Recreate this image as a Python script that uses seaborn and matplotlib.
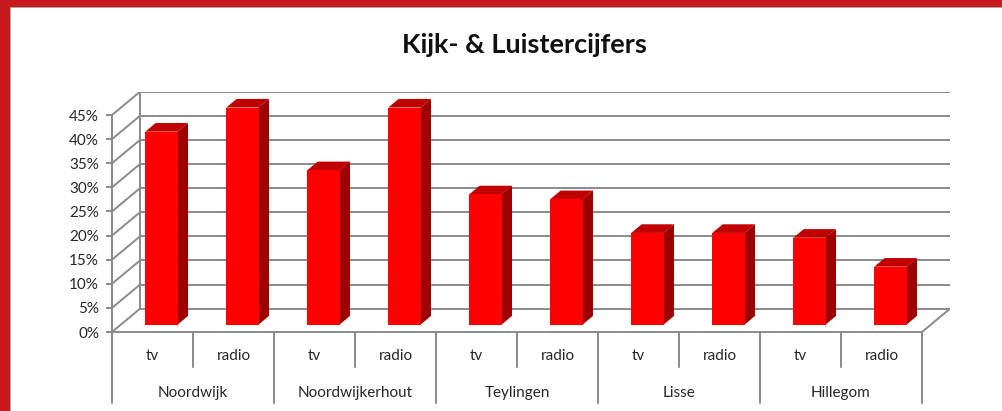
import numpy as np
import pandas as pd
import matplotlib
matplotlib.use("Agg")
import matplotlib.pyplot as plt
import seaborn as sns
from matplotlib.patches import Polygon, Rectangle

# ---- data ----
gemeenten = ["Noordwijk", "Noordwijkerhout", "Teylingen", "Lisse", "Hillegom"]
media = ["tv", "radio"]
tv_pct = [40, 32, 27, 19, 18]
radio_pct = [45, 45, 26, 19, 12]
yticks = [0, 5, 10, 15, 20, 25, 30, 35, 40, 45]
title = "Kijk- & Luistercijfers"

rows = []
for g, t, r in zip(gemeenten, tv_pct, radio_pct):
    rows.append((g, "tv", t))
    rows.append((g, "radio", r))
df = pd.DataFrame(rows, columns=["gemeente", "medium", "pct"])
df["key"] = df["gemeente"] + " " + df["medium"]

sns.set_theme(style="white")
plt.rcParams['font.family'] = ['Lato', 'DejaVu Sans']

W, H = 1003, 411
fig = plt.figure(figsize=(W / 100, H / 100), dpi=100)
fig.patch.set_facecolor("white")

# axes placed so the front plane matches the reference
ax_l, ax_r, ax_b, ax_t = 112, 950, 332, 91.7
ax = fig.add_axes([ax_l / W, (H - ax_b) / H, (ax_r - ax_l) / W, (ax_b - ax_t) / H])
ax.set_facecolor("none")

n = len(df)
DX = 28 / 81.0          # depth offset in category units
DY = 23.3 / 4.822       # depth offset in percent units

RED = "#FF0000"
TOP = "#C00000"
SIDE = "#9E0000"
GRID = "#8A8A8A"
TXT = "#262626"

sns.barplot(data=df, x="key", y="pct", order=list(df["key"]), color=RED,
            saturation=1, width=0.4, ax=ax, edgecolor="none", zorder=3)

# 3D extrusion of bars
f0 = 0.32      # depth position of bar front face
fd = 0.37      # bar depth
ox, oy = f0 * DX, f0 * DY
bdx, bdy = fd * DX, fd * DY
for p in list(ax.patches):
    x0, w, h = p.get_x(), p.get_width(), p.get_height()
    p.set_x(x0 + ox)
    p.set_y(oy)
    xl = x0 + ox
    top = Polygon([(xl, oy + h), (xl + w, oy + h), (xl + w + bdx, oy + h + bdy),
                   (xl + bdx, oy + h + bdy)], closed=True, facecolor=TOP,
                  edgecolor="none", zorder=2.9)
    side = Polygon([(xl + w, oy), (xl + w, oy + h), (xl + w + bdx, oy + h + bdy),
                    (xl + w + bdx, oy + bdy)], closed=True, facecolor=SIDE,
                   edgecolor="none", zorder=2.9)
    ax.add_patch(top)
    ax.add_patch(side)

# walls and floor
lw = 1.4
x_left, x_right = -0.5, n - 0.5
for v in yticks:
    ax.plot([x_left + DX, x_right + DX], [v + DY, v + DY], color=GRID, lw=lw, zorder=1,
            solid_capstyle="butt")
    ax.plot([x_left, x_left + DX], [v, v + DY], color=GRID, lw=lw, zorder=1)
ax.plot([x_left + DX, x_left + DX], [DY, max(yticks) + DY], color=GRID, lw=lw, zorder=1)
ax.plot([x_right, x_right + DX], [0, DY], color=GRID, lw=lw, zorder=1)

# spines / ticks
for s in ["top", "right"]:
    ax.spines[s].set_visible(False)
for s in ["left", "bottom"]:
    ax.spines[s].set_color(GRID)
    ax.spines[s].set_linewidth(lw)
ax.spines["left"].set_bounds(0, max(yticks))
ax.spines["bottom"].set_bounds(x_left, x_right)

ax.set_yticks(yticks)
ax.set_yticklabels([f"{v}%" for v in yticks])
ax.tick_params(axis="y", direction="out", length=4.3, width=lw, color=GRID,
               labelsize=11, labelcolor=TXT, pad=5, left=True)
ax.set_xticks(range(n))
ax.set_xticklabels(list(df["medium"]))
ax.tick_params(axis="x", length=0, labelsize=11, labelcolor=TXT, pad=12)
ax.set_xlabel("")
ax.set_ylabel("")
ax.grid(False)
ax.set_xlim(-0.5, n - 0.5 + DX)
ax.set_ylim(0, max(yticks) + DY)

# multi-level category table below axis
axh = ax_b - ax_t
y_short = -35 / axh
y_long = -71 / axh
tr = ax.get_xaxis_transform()
for gi in range(len(gemeenten)):
    xm = 2 * gi + 0.5
    ax.plot([xm, xm], [0, y_short], transform=tr, color=GRID, lw=lw, clip_on=False)
    ax.text(xm, -61 / axh, gemeenten[gi], transform=tr, ha="center", va="center",
            fontsize=11, color=TXT)
for gi in range(len(gemeenten) + 1):
    xb = -0.5 + 2 * gi
    ax.plot([xb, xb], [0, y_long], transform=tr, color=GRID, lw=lw, clip_on=False)

# title
fig.text(524 / W, (H - 45) / H, title, ha="center", va="center", fontsize=19.5,
         fontweight="bold", color="#111111")

# red frame
RED_FRAME = "#C8191E"
fig.add_artist(Rectangle((0, 1 - 7 / H), 1, 7 / H, transform=fig.transFigure,
                         facecolor=RED_FRAME, edgecolor="none"))
fig.add_artist(Rectangle((0, 0), 10 / W, 1, transform=fig.transFigure,
                         facecolor=RED_FRAME, edgecolor="none"))
fig.add_artist(Rectangle((10 / W, 0), 1.5 / W, 1 - 7 / H, transform=fig.transFigure,
                         facecolor="#A8A8A8", edgecolor="none"))
fig.add_artist(Rectangle((10 / W, 1 - 8.5 / H), 1, 1.5 / H, transform=fig.transFigure,
                         facecolor="#A8A8A8", edgecolor="none"))

fig.savefig("out.png", dpi=100)
